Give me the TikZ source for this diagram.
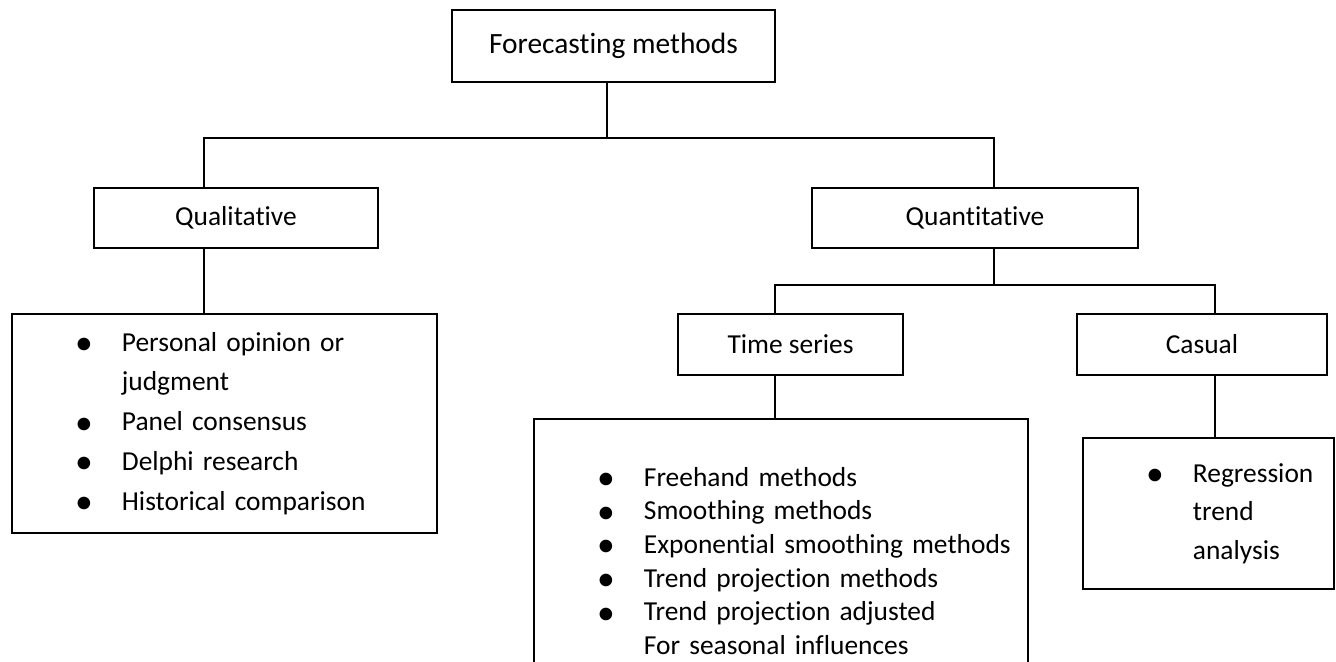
\documentclass[tikz,border=0pt]{standalone}
\usepackage{fontspec}
\setmainfont{Carlito}[Ligatures=NoCommon]
\usetikzlibrary{positioning}

\newcommand{\bitem}[1]{\hspace*{8.9mm}\makebox[6.6mm][l]{\raisebox{-0.25ex}{\scalebox{1.3}{\textbullet}}}#1}
\newcommand{\bwrap}[1]{\hspace*{15.5mm}#1}

\begin{document}
\begin{tikzpicture}[x=0.0141cm, y=-0.0141cm,
    box/.style={draw, line width=0.8pt, inner sep=0pt, font=\fontsize{11pt}{13.5pt}\selectfont},
    listbox/.style={box, align=left, text width=#1},
    link/.style={line width=0.8pt}]
    \clip (0,0) rectangle (1336,662);

    % boxes
    \node[box, minimum width=4.554cm, minimum height=1.015cm, font=\fontsize{11.8pt}{14pt}\selectfont] (top) at (613.5,46) {Forecasting methods};
    \node[box, minimum width=4.004cm, minimum height=0.846cm] (qual) at (236,218) {Qualitative};
    \node[box, minimum width=4.597cm, minimum height=0.846cm] (quant) at (975,218) {Quantitative};
    \node[box, minimum width=3.173cm, minimum height=0.860cm] (ts) at (790.5,344.5) {Time series};
    \node[box, minimum width=3.525cm, minimum height=0.860cm] (cas) at (1202,344.5) {Casual};

    \node[listbox=5.993cm, minimum height=3.088cm, font=\fontsize{11pt}{16pt}\selectfont] (quallist) at (224.5,423.5)
        {\bitem{Personal opinion or}\\ \bwrap{judgment}\\ \bitem{Panel consensus}\\ \bitem{Delphi research}\\ \bitem{Historical comparison}};
    \node[listbox=6.965cm, minimum height=4.004cm, font=\fontsize{11pt}{13.5pt}\selectfont] (tslist) at (781,561)
        {\bitem{Freehand methods}\\ \bitem{Smoothing methods}\\ \bitem{Exponential smoothing methods}\\ \bitem{Trend projection methods}\\ \bitem{Trend projection adjusted}\\ \bwrap{For seasonal influences}};
    \node[listbox=3.539cm, minimum height=2.129cm, font=\fontsize{11pt}{15.5pt}\selectfont] (reg) at (1208.5,513.5)
        {\bitem{Regression}\\ \bwrap{trend}\\ \bwrap{analysis}};

    % connectors
    \coordinate (mainbus) at (607,138);
    \coordinate (qualdrop) at (204,138);
    \coordinate (quantdrop) at (994,138);
    \coordinate (tsdrop) at (775,285);
    \coordinate (casdrop) at (1215,285);
    \draw[link] (mainbus |- top.south) -- (mainbus);
    \draw[link] (qualdrop |- qual.north) -- (qualdrop) -- (quantdrop) -- (quantdrop |- quant.north);
    \draw[link] (qualdrop |- qual.south) -- (qualdrop |- quallist.north);
    \draw[link] (quantdrop |- quant.south) -- (quantdrop |- tsdrop);
    \draw[link] (tsdrop |- ts.north) -- (tsdrop) -- (casdrop) -- (casdrop |- cas.north);
    \draw[link] (tsdrop |- ts.south) -- (tsdrop |- tslist.north);
    \draw[link] (casdrop |- cas.south) -- (casdrop |- reg.north);
\end{tikzpicture}
\end{document}
